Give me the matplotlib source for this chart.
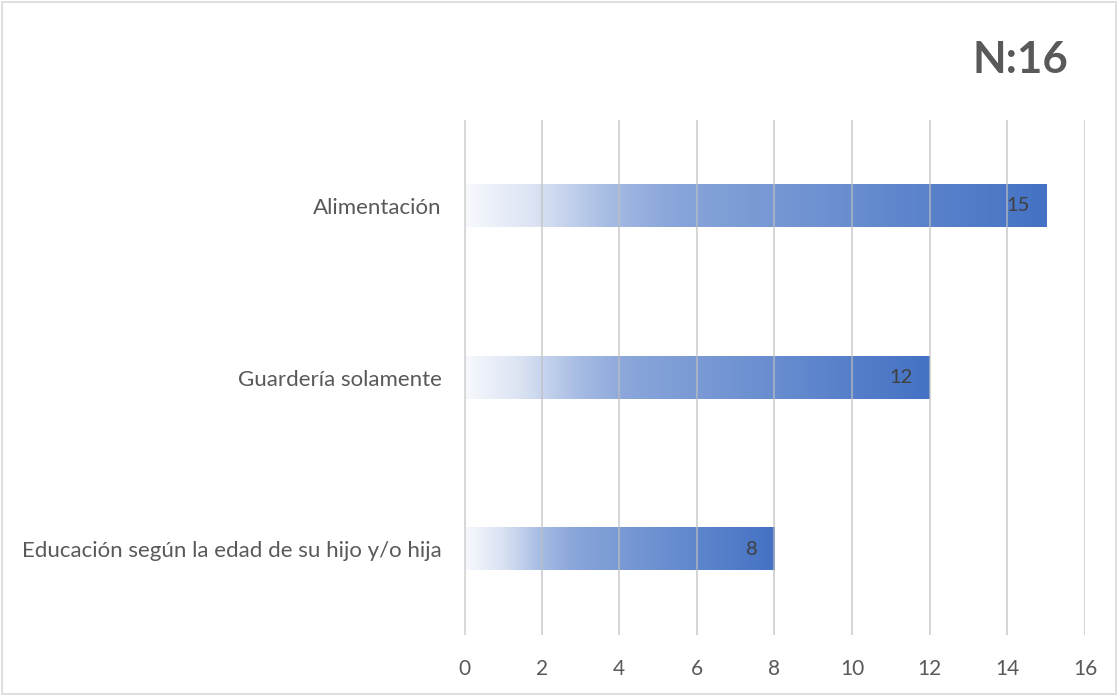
import numpy as np
import matplotlib
matplotlib.use("Agg")
import matplotlib.pyplot as plt
from matplotlib.colors import LinearSegmentedColormap
from matplotlib.patches import Rectangle

# Datos
categorias = ["Educación según la edad de su hijo y/o hija",
              "Guardería solamente",
              "Alimentación"]
valores = [8, 12, 15]
ticks_x = [0, 2, 4, 6, 8, 10, 12, 14, 16]
titulo = "N:16"

plt.rcParams['font.family'] = ['Lato', 'DejaVu Sans']

gris_texto = "#595959"

degradado = LinearSegmentedColormap.from_list(
    "degradado",
    [(0.0, "#f7f9fd"), (0.12, "#dbe3f3"), (0.25, "#a5bbe3"),
     (0.35, "#8aa6da"), (1.0, "#4472c4")])

fig = plt.figure(figsize=(11.18, 6.95), dpi=100)
ax = fig.add_axes([0.415, 0.0863, 0.5555, 0.741])

alto = 0.245
grad = np.linspace(0, 1, 256).reshape(1, -1)
for i, v in enumerate(valores):
    ax.imshow(grad, cmap=degradado, aspect="auto", interpolation="bilinear",
              extent=[0, v, i - alto / 2, i + alto / 2], zorder=1)
    ax.text(v - 0.43, i, str(v), ha="right", va="center",
            fontsize=14.5, color="#404040", zorder=4)

ax.set_xlim(0, 16)
ax.set_ylim(-0.5, 2.5)
ax.set_xticks(ticks_x)
ax.set_yticks(range(len(categorias)))
ax.set_yticklabels(categorias)

for x in ticks_x[1:]:
    ax.axvline(x, color="#bfbfbf", lw=1.2, alpha=0.75, zorder=2)
ax.axvline(0, color="#d9d9d9", lw=3, zorder=3)

for s in ax.spines.values():
    s.set_visible(False)
ax.tick_params(axis="both", length=0, colors=gris_texto)
ax.tick_params(axis="x", pad=17, labelsize=15)
ax.tick_params(axis="y", pad=16, labelsize=16)

fig.text(0.956, 0.914, titulo, ha="right", va="center",
         fontsize=31.5, fontweight="bold", color=gris_texto)

fig.patches.append(Rectangle((0.002, 0.002), 0.996, 0.995,
                             transform=fig.transFigure, fill=False,
                             edgecolor="#d9d9d9", lw=1.2))

fig.savefig("out.png", dpi=100)
